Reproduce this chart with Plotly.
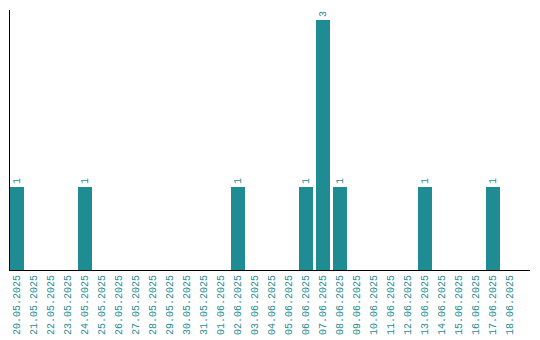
import plotly.graph_objects as go

dates = ["20.05.2025", "21.05.2025", "22.05.2025", "23.05.2025", "24.05.2025",
         "25.05.2025", "26.05.2025", "27.05.2025", "28.05.2025", "29.05.2025",
         "30.05.2025", "31.05.2025", "01.06.2025", "02.06.2025", "03.06.2025",
         "04.06.2025", "05.06.2025", "06.06.2025", "07.06.2025", "08.06.2025",
         "09.06.2025", "10.06.2025", "11.06.2025", "12.06.2025", "13.06.2025",
         "14.06.2025", "15.06.2025", "16.06.2025", "17.06.2025", "18.06.2025"]
counts = [1, 0, 0, 0, 1, 0, 0, 0, 0, 0, 0, 0, 0, 1, 0,
          0, 0, 1, 3, 1, 0, 0, 0, 0, 1, 0, 0, 0, 1, 0]

teal = "#1f8b92"
labels = [str(v) if v > 0 else "" for v in counts]

fig = go.Figure(go.Bar(
    x=dates, y=counts, width=0.82,
    marker=dict(color=teal, line=dict(width=0)),
    text=labels, textposition="outside", textangle=-90,
    textfont=dict(family="Liberation Mono", size=10, color=teal),
    cliponaxis=False,
))
# the page body has an 8px default margin, so the figure is sized/offset to match
fig.update_layout(
    width=532, height=332,
    margin=dict(l=2, r=10, t=2, b=70, autoexpand=False),
    paper_bgcolor="white", plot_bgcolor="white",
    showlegend=False, bargap=0,
    uniformtext=dict(minsize=10, mode="show"),
)
fig.update_xaxes(type="category", range=[-0.41, 30.18], showgrid=False,
                 showline=True, linecolor="black", linewidth=1,
                 tickangle=-90, ticks="", automargin=False,
                 tickfont=dict(family="Liberation Mono", size=10, color=teal))
fig.update_yaxes(range=[0, 3.12], showgrid=False, zeroline=False,
                 showline=True, linecolor="black", linewidth=1, automargin=False,
                 showticklabels=False, ticks="")
fig.write_html("out.html")
